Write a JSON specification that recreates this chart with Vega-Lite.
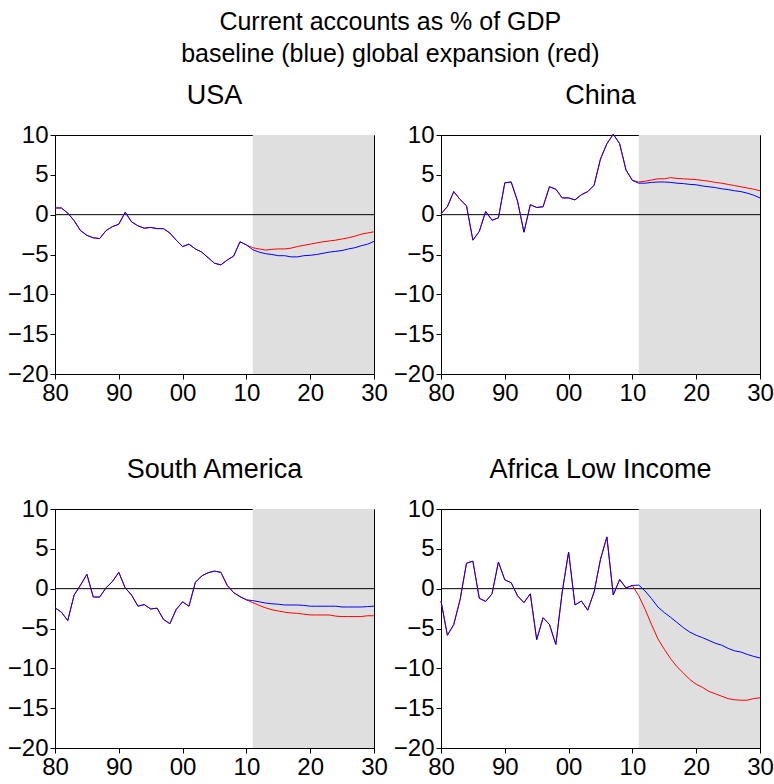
{
  "$schema": "https://vega.github.io/schema/vega-lite/v6.json",
  "padding": {"left": 6, "top": 9, "right": 0, "bottom": 0},
  "background": "white",
  "title": {
    "text": ["Current accounts as % of GDP", "baseline (blue) global expansion (red)"],
    "fontSize": 25,
    "fontWeight": "normal",
    "font": "Liberation Sans",
    "color": "black",
    "lineHeight": 32,
    "anchor": "middle",
    "offset": 15
  },
  "data": {
    "values": [
      {"c": "USA", "year": 1980, "baseline": 0.84, "expansion": 0.84},
      {"c": "USA", "year": 1981, "baseline": 0.84, "expansion": 0.84},
      {"c": "USA", "year": 1982, "baseline": 0.2, "expansion": 0.2},
      {"c": "USA", "year": 1983, "baseline": -0.75, "expansion": -0.75},
      {"c": "USA", "year": 1984, "baseline": -2.0, "expansion": -2.0},
      {"c": "USA", "year": 1985, "baseline": -2.6, "expansion": -2.6},
      {"c": "USA", "year": 1986, "baseline": -2.9, "expansion": -2.9},
      {"c": "USA", "year": 1987, "baseline": -3.0, "expansion": -3.0},
      {"c": "USA", "year": 1988, "baseline": -2.0, "expansion": -2.0},
      {"c": "USA", "year": 1989, "baseline": -1.5, "expansion": -1.5},
      {"c": "USA", "year": 1990, "baseline": -1.2, "expansion": -1.2},
      {"c": "USA", "year": 1991, "baseline": 0.3, "expansion": 0.3},
      {"c": "USA", "year": 1992, "baseline": -0.9, "expansion": -0.9},
      {"c": "USA", "year": 1993, "baseline": -1.4, "expansion": -1.4},
      {"c": "USA", "year": 1994, "baseline": -1.7, "expansion": -1.7},
      {"c": "USA", "year": 1995, "baseline": -1.6, "expansion": -1.6},
      {"c": "USA", "year": 1996, "baseline": -1.75, "expansion": -1.75},
      {"c": "USA", "year": 1997, "baseline": -1.75, "expansion": -1.75},
      {"c": "USA", "year": 1998, "baseline": -2.3, "expansion": -2.3},
      {"c": "USA", "year": 1999, "baseline": -3.2, "expansion": -3.2},
      {"c": "USA", "year": 2000, "baseline": -4.0, "expansion": -4.0},
      {"c": "USA", "year": 2001, "baseline": -3.7, "expansion": -3.7},
      {"c": "USA", "year": 2002, "baseline": -4.3, "expansion": -4.3},
      {"c": "USA", "year": 2003, "baseline": -4.7, "expansion": -4.7},
      {"c": "USA", "year": 2004, "baseline": -5.4, "expansion": -5.4},
      {"c": "USA", "year": 2005, "baseline": -6.1, "expansion": -6.1},
      {"c": "USA", "year": 2006, "baseline": -6.3, "expansion": -6.3},
      {"c": "USA", "year": 2007, "baseline": -5.7, "expansion": -5.7},
      {"c": "USA", "year": 2008, "baseline": -5.2, "expansion": -5.2},
      {"c": "USA", "year": 2009, "baseline": -3.4, "expansion": -3.4},
      {"c": "USA", "year": 2010, "baseline": -3.8, "expansion": -3.8},
      {"c": "USA", "year": 2011, "baseline": -4.4, "expansion": -4.15},
      {"c": "USA", "year": 2012, "baseline": -4.7, "expansion": -4.3},
      {"c": "USA", "year": 2013, "baseline": -4.9, "expansion": -4.45},
      {"c": "USA", "year": 2014, "baseline": -5.0, "expansion": -4.35},
      {"c": "USA", "year": 2015, "baseline": -5.15, "expansion": -4.3},
      {"c": "USA", "year": 2016, "baseline": -5.15, "expansion": -4.3},
      {"c": "USA", "year": 2017, "baseline": -5.3, "expansion": -4.2},
      {"c": "USA", "year": 2018, "baseline": -5.3, "expansion": -4.0},
      {"c": "USA", "year": 2019, "baseline": -5.15, "expansion": -3.85},
      {"c": "USA", "year": 2020, "baseline": -5.1, "expansion": -3.7},
      {"c": "USA", "year": 2021, "baseline": -5.0, "expansion": -3.55},
      {"c": "USA", "year": 2022, "baseline": -4.85, "expansion": -3.4},
      {"c": "USA", "year": 2023, "baseline": -4.7, "expansion": -3.3},
      {"c": "USA", "year": 2024, "baseline": -4.6, "expansion": -3.2},
      {"c": "USA", "year": 2025, "baseline": -4.5, "expansion": -3.05},
      {"c": "USA", "year": 2026, "baseline": -4.3, "expansion": -2.9},
      {"c": "USA", "year": 2027, "baseline": -4.15, "expansion": -2.7},
      {"c": "USA", "year": 2028, "baseline": -3.9, "expansion": -2.45},
      {"c": "USA", "year": 2029, "baseline": -3.7, "expansion": -2.3},
      {"c": "USA", "year": 2030, "baseline": -3.35, "expansion": -2.15},

      {"c": "China", "year": 1980, "baseline": 0.1, "expansion": 0.1},
      {"c": "China", "year": 1981, "baseline": 1.0, "expansion": 1.0},
      {"c": "China", "year": 1982, "baseline": 2.9, "expansion": 2.9},
      {"c": "China", "year": 1983, "baseline": 1.9, "expansion": 1.9},
      {"c": "China", "year": 1984, "baseline": 1.1, "expansion": 1.1},
      {"c": "China", "year": 1985, "baseline": -3.2, "expansion": -3.2},
      {"c": "China", "year": 1986, "baseline": -2.1, "expansion": -2.1},
      {"c": "China", "year": 1987, "baseline": 0.4, "expansion": 0.4},
      {"c": "China", "year": 1988, "baseline": -0.7, "expansion": -0.7},
      {"c": "China", "year": 1989, "baseline": -0.4, "expansion": -0.4},
      {"c": "China", "year": 1990, "baseline": 4.0, "expansion": 4.0},
      {"c": "China", "year": 1991, "baseline": 4.1, "expansion": 4.1},
      {"c": "China", "year": 1992, "baseline": 1.7, "expansion": 1.7},
      {"c": "China", "year": 1993, "baseline": -2.2, "expansion": -2.2},
      {"c": "China", "year": 1994, "baseline": 1.25, "expansion": 1.25},
      {"c": "China", "year": 1995, "baseline": 0.9, "expansion": 0.9},
      {"c": "China", "year": 1996, "baseline": 1.0, "expansion": 1.0},
      {"c": "China", "year": 1997, "baseline": 3.5, "expansion": 3.5},
      {"c": "China", "year": 1998, "baseline": 3.2, "expansion": 3.2},
      {"c": "China", "year": 1999, "baseline": 2.1, "expansion": 2.1},
      {"c": "China", "year": 2000, "baseline": 2.1, "expansion": 2.1},
      {"c": "China", "year": 2001, "baseline": 1.85, "expansion": 1.85},
      {"c": "China", "year": 2002, "baseline": 2.5, "expansion": 2.5},
      {"c": "China", "year": 2003, "baseline": 2.9, "expansion": 2.9},
      {"c": "China", "year": 2004, "baseline": 3.7, "expansion": 3.7},
      {"c": "China", "year": 2005, "baseline": 7.0, "expansion": 7.0},
      {"c": "China", "year": 2006, "baseline": 8.9, "expansion": 8.9},
      {"c": "China", "year": 2007, "baseline": 10.1, "expansion": 10.1},
      {"c": "China", "year": 2008, "baseline": 8.9, "expansion": 8.9},
      {"c": "China", "year": 2009, "baseline": 5.6, "expansion": 5.6},
      {"c": "China", "year": 2010, "baseline": 4.3, "expansion": 4.3},
      {"c": "China", "year": 2011, "baseline": 3.95, "expansion": 4.1},
      {"c": "China", "year": 2012, "baseline": 3.95, "expansion": 4.2},
      {"c": "China", "year": 2013, "baseline": 4.05, "expansion": 4.35},
      {"c": "China", "year": 2014, "baseline": 4.1, "expansion": 4.5},
      {"c": "China", "year": 2015, "baseline": 4.1, "expansion": 4.5},
      {"c": "China", "year": 2016, "baseline": 4.05, "expansion": 4.65},
      {"c": "China", "year": 2017, "baseline": 3.95, "expansion": 4.55},
      {"c": "China", "year": 2018, "baseline": 3.9, "expansion": 4.5},
      {"c": "China", "year": 2019, "baseline": 3.8, "expansion": 4.45},
      {"c": "China", "year": 2020, "baseline": 3.75, "expansion": 4.4},
      {"c": "China", "year": 2021, "baseline": 3.6, "expansion": 4.3},
      {"c": "China", "year": 2022, "baseline": 3.5, "expansion": 4.2},
      {"c": "China", "year": 2023, "baseline": 3.4, "expansion": 4.05},
      {"c": "China", "year": 2024, "baseline": 3.25, "expansion": 3.95},
      {"c": "China", "year": 2025, "baseline": 3.15, "expansion": 3.8},
      {"c": "China", "year": 2026, "baseline": 3.0, "expansion": 3.65},
      {"c": "China", "year": 2027, "baseline": 2.9, "expansion": 3.5},
      {"c": "China", "year": 2028, "baseline": 2.7, "expansion": 3.35},
      {"c": "China", "year": 2029, "baseline": 2.45, "expansion": 3.2},
      {"c": "China", "year": 2030, "baseline": 2.1, "expansion": 3.0},

      {"c": "South America", "year": 1980, "baseline": -2.4, "expansion": -2.4},
      {"c": "South America", "year": 1981, "baseline": -2.95, "expansion": -2.95},
      {"c": "South America", "year": 1982, "baseline": -4.0, "expansion": -4.0},
      {"c": "South America", "year": 1983, "baseline": -0.8, "expansion": -0.8},
      {"c": "South America", "year": 1984, "baseline": 0.45, "expansion": 0.45},
      {"c": "South America", "year": 1985, "baseline": 1.8, "expansion": 1.8},
      {"c": "South America", "year": 1986, "baseline": -1.05, "expansion": -1.05},
      {"c": "South America", "year": 1987, "baseline": -1.05, "expansion": -1.05},
      {"c": "South America", "year": 1988, "baseline": 0.1, "expansion": 0.1},
      {"c": "South America", "year": 1989, "baseline": 0.9, "expansion": 0.9},
      {"c": "South America", "year": 1990, "baseline": 2.05, "expansion": 2.05},
      {"c": "South America", "year": 1991, "baseline": 0.1, "expansion": 0.1},
      {"c": "South America", "year": 1992, "baseline": -0.8, "expansion": -0.8},
      {"c": "South America", "year": 1993, "baseline": -2.2, "expansion": -2.2},
      {"c": "South America", "year": 1994, "baseline": -2.0, "expansion": -2.0},
      {"c": "South America", "year": 1995, "baseline": -2.55, "expansion": -2.55},
      {"c": "South America", "year": 1996, "baseline": -2.45, "expansion": -2.45},
      {"c": "South America", "year": 1997, "baseline": -3.85, "expansion": -3.85},
      {"c": "South America", "year": 1998, "baseline": -4.4, "expansion": -4.4},
      {"c": "South America", "year": 1999, "baseline": -2.6, "expansion": -2.6},
      {"c": "South America", "year": 2000, "baseline": -1.65, "expansion": -1.65},
      {"c": "South America", "year": 2001, "baseline": -2.2, "expansion": -2.2},
      {"c": "South America", "year": 2002, "baseline": 0.8, "expansion": 0.8},
      {"c": "South America", "year": 2003, "baseline": 1.6, "expansion": 1.6},
      {"c": "South America", "year": 2004, "baseline": 2.0, "expansion": 2.0},
      {"c": "South America", "year": 2005, "baseline": 2.2, "expansion": 2.2},
      {"c": "South America", "year": 2006, "baseline": 2.05, "expansion": 2.05},
      {"c": "South America", "year": 2007, "baseline": 0.4, "expansion": 0.4},
      {"c": "South America", "year": 2008, "baseline": -0.5, "expansion": -0.5},
      {"c": "South America", "year": 2009, "baseline": -1.0, "expansion": -1.0},
      {"c": "South America", "year": 2010, "baseline": -1.4, "expansion": -1.4},
      {"c": "South America", "year": 2011, "baseline": -1.5, "expansion": -1.75},
      {"c": "South America", "year": 2012, "baseline": -1.65, "expansion": -2.1},
      {"c": "South America", "year": 2013, "baseline": -1.8, "expansion": -2.4},
      {"c": "South America", "year": 2014, "baseline": -1.9, "expansion": -2.65},
      {"c": "South America", "year": 2015, "baseline": -1.95, "expansion": -2.8},
      {"c": "South America", "year": 2016, "baseline": -2.05, "expansion": -2.95},
      {"c": "South America", "year": 2017, "baseline": -2.05, "expansion": -3.05},
      {"c": "South America", "year": 2018, "baseline": -2.05, "expansion": -3.1},
      {"c": "South America", "year": 2019, "baseline": -2.1, "expansion": -3.2},
      {"c": "South America", "year": 2020, "baseline": -2.2, "expansion": -3.3},
      {"c": "South America", "year": 2021, "baseline": -2.2, "expansion": -3.3},
      {"c": "South America", "year": 2022, "baseline": -2.2, "expansion": -3.3},
      {"c": "South America", "year": 2023, "baseline": -2.2, "expansion": -3.3},
      {"c": "South America", "year": 2024, "baseline": -2.2, "expansion": -3.45},
      {"c": "South America", "year": 2025, "baseline": -2.3, "expansion": -3.5},
      {"c": "South America", "year": 2026, "baseline": -2.3, "expansion": -3.5},
      {"c": "South America", "year": 2027, "baseline": -2.3, "expansion": -3.5},
      {"c": "South America", "year": 2028, "baseline": -2.3, "expansion": -3.5},
      {"c": "South America", "year": 2029, "baseline": -2.25, "expansion": -3.4},
      {"c": "South America", "year": 2030, "baseline": -2.2, "expansion": -3.4},

      {"c": "Africa Low Income", "year": 1980, "baseline": -1.55, "expansion": -1.55},
      {"c": "Africa Low Income", "year": 1981, "baseline": -5.85, "expansion": -5.85},
      {"c": "Africa Low Income", "year": 1982, "baseline": -4.5, "expansion": -4.5},
      {"c": "Africa Low Income", "year": 1983, "baseline": -1.35, "expansion": -1.35},
      {"c": "Africa Low Income", "year": 1984, "baseline": 3.2, "expansion": 3.2},
      {"c": "Africa Low Income", "year": 1985, "baseline": 3.45, "expansion": 3.45},
      {"c": "Africa Low Income", "year": 1986, "baseline": -1.2, "expansion": -1.2},
      {"c": "Africa Low Income", "year": 1987, "baseline": -1.6, "expansion": -1.6},
      {"c": "Africa Low Income", "year": 1988, "baseline": -0.65, "expansion": -0.65},
      {"c": "Africa Low Income", "year": 1989, "baseline": 3.35, "expansion": 3.35},
      {"c": "Africa Low Income", "year": 1990, "baseline": 1.1, "expansion": 1.1},
      {"c": "Africa Low Income", "year": 1991, "baseline": 0.75, "expansion": 0.75},
      {"c": "Africa Low Income", "year": 1992, "baseline": -0.9, "expansion": -0.9},
      {"c": "Africa Low Income", "year": 1993, "baseline": -1.75, "expansion": -1.75},
      {"c": "Africa Low Income", "year": 1994, "baseline": -0.65, "expansion": -0.65},
      {"c": "Africa Low Income", "year": 1995, "baseline": -6.4, "expansion": -6.4},
      {"c": "Africa Low Income", "year": 1996, "baseline": -3.65, "expansion": -3.65},
      {"c": "Africa Low Income", "year": 1997, "baseline": -4.5, "expansion": -4.5},
      {"c": "Africa Low Income", "year": 1998, "baseline": -7.0, "expansion": -7.0},
      {"c": "Africa Low Income", "year": 1999, "baseline": -0.4, "expansion": -0.4},
      {"c": "Africa Low Income", "year": 2000, "baseline": 4.6, "expansion": 4.6},
      {"c": "Africa Low Income", "year": 2001, "baseline": -2.05, "expansion": -2.05},
      {"c": "Africa Low Income", "year": 2002, "baseline": -1.55, "expansion": -1.55},
      {"c": "Africa Low Income", "year": 2003, "baseline": -2.7, "expansion": -2.7},
      {"c": "Africa Low Income", "year": 2004, "baseline": -0.4, "expansion": -0.4},
      {"c": "Africa Low Income", "year": 2005, "baseline": 3.7, "expansion": 3.7},
      {"c": "Africa Low Income", "year": 2006, "baseline": 6.5, "expansion": 6.5},
      {"c": "Africa Low Income", "year": 2007, "baseline": -0.8, "expansion": -0.8},
      {"c": "Africa Low Income", "year": 2008, "baseline": 1.15, "expansion": 1.15},
      {"c": "Africa Low Income", "year": 2009, "baseline": 0.1, "expansion": 0.1},
      {"c": "Africa Low Income", "year": 2010, "baseline": 0.4, "expansion": 0.4},
      {"c": "Africa Low Income", "year": 2011, "baseline": 0.45, "expansion": -0.9},
      {"c": "Africa Low Income", "year": 2012, "baseline": -0.3, "expansion": -2.6},
      {"c": "Africa Low Income", "year": 2013, "baseline": -1.25, "expansion": -4.5},
      {"c": "Africa Low Income", "year": 2014, "baseline": -2.3, "expansion": -6.3},
      {"c": "Africa Low Income", "year": 2015, "baseline": -3.0, "expansion": -7.6},
      {"c": "Africa Low Income", "year": 2016, "baseline": -3.6, "expansion": -8.8},
      {"c": "Africa Low Income", "year": 2017, "baseline": -4.25, "expansion": -9.8},
      {"c": "Africa Low Income", "year": 2018, "baseline": -4.9, "expansion": -10.6},
      {"c": "Africa Low Income", "year": 2019, "baseline": -5.45, "expansion": -11.4},
      {"c": "Africa Low Income", "year": 2020, "baseline": -5.85, "expansion": -12.0},
      {"c": "Africa Low Income", "year": 2021, "baseline": -6.15, "expansion": -12.4},
      {"c": "Africa Low Income", "year": 2022, "baseline": -6.5, "expansion": -12.9},
      {"c": "Africa Low Income", "year": 2023, "baseline": -6.85, "expansion": -13.2},
      {"c": "Africa Low Income", "year": 2024, "baseline": -7.1, "expansion": -13.5},
      {"c": "Africa Low Income", "year": 2025, "baseline": -7.5, "expansion": -13.8},
      {"c": "Africa Low Income", "year": 2026, "baseline": -7.8, "expansion": -13.95},
      {"c": "Africa Low Income", "year": 2027, "baseline": -7.95, "expansion": -14.0},
      {"c": "Africa Low Income", "year": 2028, "baseline": -8.25, "expansion": -14.0},
      {"c": "Africa Low Income", "year": 2029, "baseline": -8.5, "expansion": -13.8},
      {"c": "Africa Low Income", "year": 2030, "baseline": -8.7, "expansion": -13.7}
    ]
  },
  "facet": {
    "field": "c",
    "type": "nominal",
    "sort": ["USA", "China", "South America", "Africa Low Income"],
    "title": null,
    "header": {
      "labelFontSize": 27,
      "labelFont": "Liberation Sans",
      "labelColor": "black",
      "labelPadding": 13
    }
  },
  "columns": 2,
  "spacing": {"column": 4, "row": 49},
  "resolve": {"axis": {"x": "independent", "y": "independent"}},
  "spec": {
    "width": 319,
    "height": 239,
    "layer": [
      {
        "transform": [{"filter": "datum.year >= 2011"}],
        "mark": {"type": "rect", "color": "#dfdfdf"},
        "encoding": {
          "x": {"aggregate": "min", "field": "year", "type": "quantitative", "title": null},
          "x2": {"aggregate": "max", "field": "year"},
          "detail": {"field": "c", "type": "nominal"}
        }
      },
      {
        "transform": [{"filter": "datum.year == 1980"}],
        "mark": {"type": "rule", "color": "black", "strokeWidth": 1},
        "encoding": {
          "y": {
            "datum": 0,
            "type": "quantitative",
            "title": null,
            "scale": {"domain": [-20, 10], "nice": false},
            "axis": {"values": [-20, -15, -10, -5, 0, 5, 10], "tickCount": 7}
          }
        }
      },
      {
        "mark": {"type": "line", "color": "#ff0000", "strokeWidth": 1},
        "encoding": {
          "x": {"field": "year", "type": "quantitative", "title": null},
          "y": {
            "field": "expansion",
            "type": "quantitative",
            "title": null,
            "axis": {"values": [-20, -15, -10, -5, 0, 5, 10], "tickCount": 7}
          }
        }
      },
      {
        "mark": {"type": "line", "color": "#0000ff", "strokeWidth": 1},
        "encoding": {
          "x": {
            "field": "year",
            "type": "quantitative",
            "title": null,
            "scale": {"domain": [1980, 2030], "nice": false, "zero": false},
            "axis": {
              "values": [1980, 1990, 2000, 2010, 2020, 2030],
              "labelExpr": "slice(toString(datum.value), 2)"
            }
          },
          "y": {
            "field": "baseline",
            "type": "quantitative",
            "title": null,
            "scale": {"domain": [-20, 10], "nice": false},
            "axis": {"values": [-20, -15, -10, -5, 0, 5, 10], "tickCount": 7}
          }
        }
      }
    ]
  },
  "config": {
    "font": "Liberation Sans",
    "view": {"stroke": "black", "strokeWidth": 1},
    "axis": {
      "grid": false,
      "domainColor": "black",
      "domainWidth": 1,
      "tickColor": "black",
      "tickSize": 5,
      "labelColor": "black",
      "labelFont": "Liberation Sans",
      "labelFontSize": 24,
      "labelPadding": 2,
      "labelFlush": false,
      "labelOverlap": false,
      "labelBound": false
    },
    "axisY": {"tickCount": 7}
  }
}
